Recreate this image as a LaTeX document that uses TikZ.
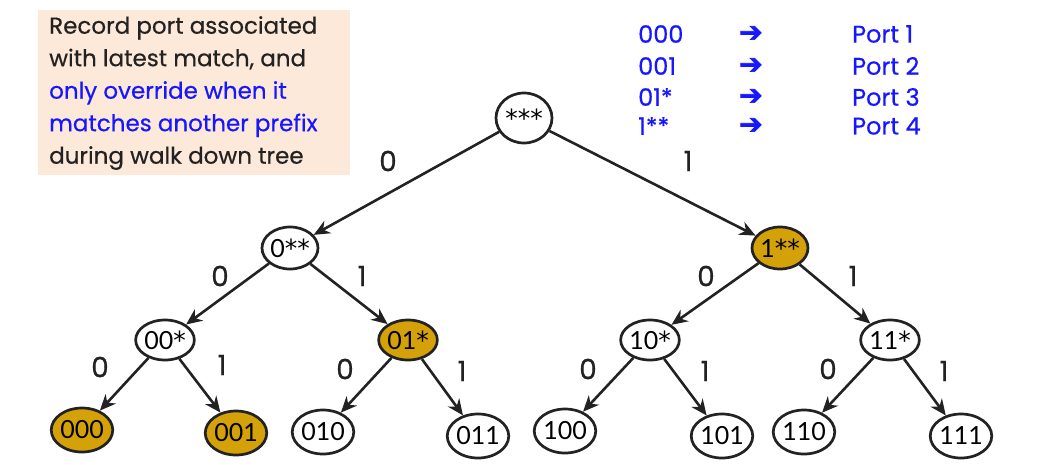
\documentclass[tikz,border=0pt]{standalone}
\usepackage{fontspec}
\setmainfont{Poppins}[FakeBold=0.5]
\newfontfamily\nodefont{Lato}
\newfontfamily\arrowfont{DejaVu Sans}[FakeBold=2.5]
\newfontfamily\starfont{DejaVu Sans}
\newcommand\st{{\starfont *}}
\usetikzlibrary{shapes.geometric,arrows.meta}
\definecolor{gold}{RGB}{212,162,8}
\definecolor{peach}{RGB}{253,233,217}
\definecolor{tblue}{RGB}{22,22,255}
\definecolor{ink}{RGB}{34,34,34}
\tikzset{
  tn/.style={ellipse, draw=ink, line width=2.7pt, fill=white, inner sep=0pt,
    minimum width=#1, minimum height=44pt, font=\nodefont\fontsize{25}{25}\selectfont},
  tn/.default=56pt,
  hit/.style={fill=gold},
  edge/.style={-{Stealth[length=16pt,width=14pt]}, line width=2.6pt, draw=ink},
  lab/.style={font=\fontsize{28}{28}\selectfont, text=ink},
  boxtext/.style={font=\fontsize{23}{32.5}\selectfont, text=ink, align=left, anchor=north west, inner sep=0pt},
  mapt/.style={font=\fontsize{24}{24}\selectfont, text=tblue, anchor=west, inner sep=0pt},
  mapa/.style={font=\arrowfont\fontsize{28}{28}\selectfont, text=tblue, anchor=west, inner sep=0pt},
}
\begin{document}
\begin{tikzpicture}[x=1pt,y=-1pt]
\useasboundingbox (0,0) rectangle (1044,464);
% info box
\fill[peach] (38,10) rectangle (350,175);
\node[boxtext] (info) at (49,16) {Record port associated\\with latest match, and\\\textcolor{tblue}{only override when it}\\\textcolor{tblue}{matches another prefix}\\during walk down tree};
% mapping table
\node[mapt] (m1) at (638,34) {000};
\node[mapt] (m2) at (638,66) {001};
\node[mapt] (m3) at (638,97) {01*};
\node[mapt] (m4) at (638,126) {1**};
\node[mapa] (a1) at (739,34) {➔};
\node[mapa] (a2) at (739,66) {➔};
\node[mapa] (a3) at (739,97) {➔};
\node[mapa] (a4) at (739,126) {➔};
\node[mapt] (p1) at (852,34) {Port 1};
\node[mapt] (p2) at (852,66) {Port 2};
\node[mapt] (p3) at (852,97) {Port 3};
\node[mapt] (p4) at (852,126) {Port 4};
% tree nodes
\node[tn, minimum height=50pt] (r) at (524,118) {\st\st\st};
\node[tn, minimum height=42pt] (n0) at (290,248) {0\st\st};
\node[tn, hit, minimum height=42pt] (n1) at (780,248) {1\st\st};
\node[tn, minimum height=40pt] (n00) at (165,340) {00\st};
\node[tn, hit, minimum height=40pt] (n01) at (408,340) {01\st};
\node[tn, minimum height=40pt] (n10) at (650,340) {10\st};
\node[tn, minimum height=40pt] (n11) at (890,340) {11\st};
\node[tn=57pt, hit] (n000) at (82,430) {000};
\node[tn=57pt, hit] (n001) at (236,433) {001};
\node[tn=53pt] (n010) at (323,432) {010};
\node[tn=53pt] (n011) at (478,436) {011};
\node[tn=56pt] (n100) at (565,431) {100};
\node[tn=58pt] (n101) at (722,436) {101};
\node[tn=52pt] (n110) at (804,432) {110};
\node[tn=58pt] (n111) at (961,436) {111};
% edges
\draw[edge] (r) -- (n0);
\draw[edge] (r) -- (n1);
\draw[edge] (n0) -- (n00);
\draw[edge] (n0) -- (n01);
\draw[edge] (n1) -- (n10);
\draw[edge] (n1) -- (n11);
\draw[edge] (n00) -- (n000);
\draw[edge] (n00) -- (n001);
\draw[edge] (n01) -- (n010);
\draw[edge] (n01) -- (n011);
\draw[edge] (n10) -- (n100);
\draw[edge] (n10) -- (n101);
\draw[edge] (n11) -- (n110);
\draw[edge] (n11) -- (n111);
% edge labels
\node[lab] (l1) at (388,161) {0};
\node[lab] (l2) at (688,161) {1};
\node[lab] (l3) at (220,276) {0};
\node[lab] (l4) at (362,276) {1};
\node[lab] (l5) at (706,276) {0};
\node[lab] (l6) at (853,276) {1};
\node[lab] (l7) at (100,367) {0};
\node[lab] (l8) at (222,365) {1};
\node[lab] (l9) at (345,369) {0};
\node[lab] (l10) at (462,371) {1};
\node[lab] (l11) at (588,369) {0};
\node[lab] (l12) at (705,371) {1};
\node[lab] (l13) at (828,369) {0};
\node[lab] (l14) at (944,371) {1};
\end{tikzpicture}
\end{document}
